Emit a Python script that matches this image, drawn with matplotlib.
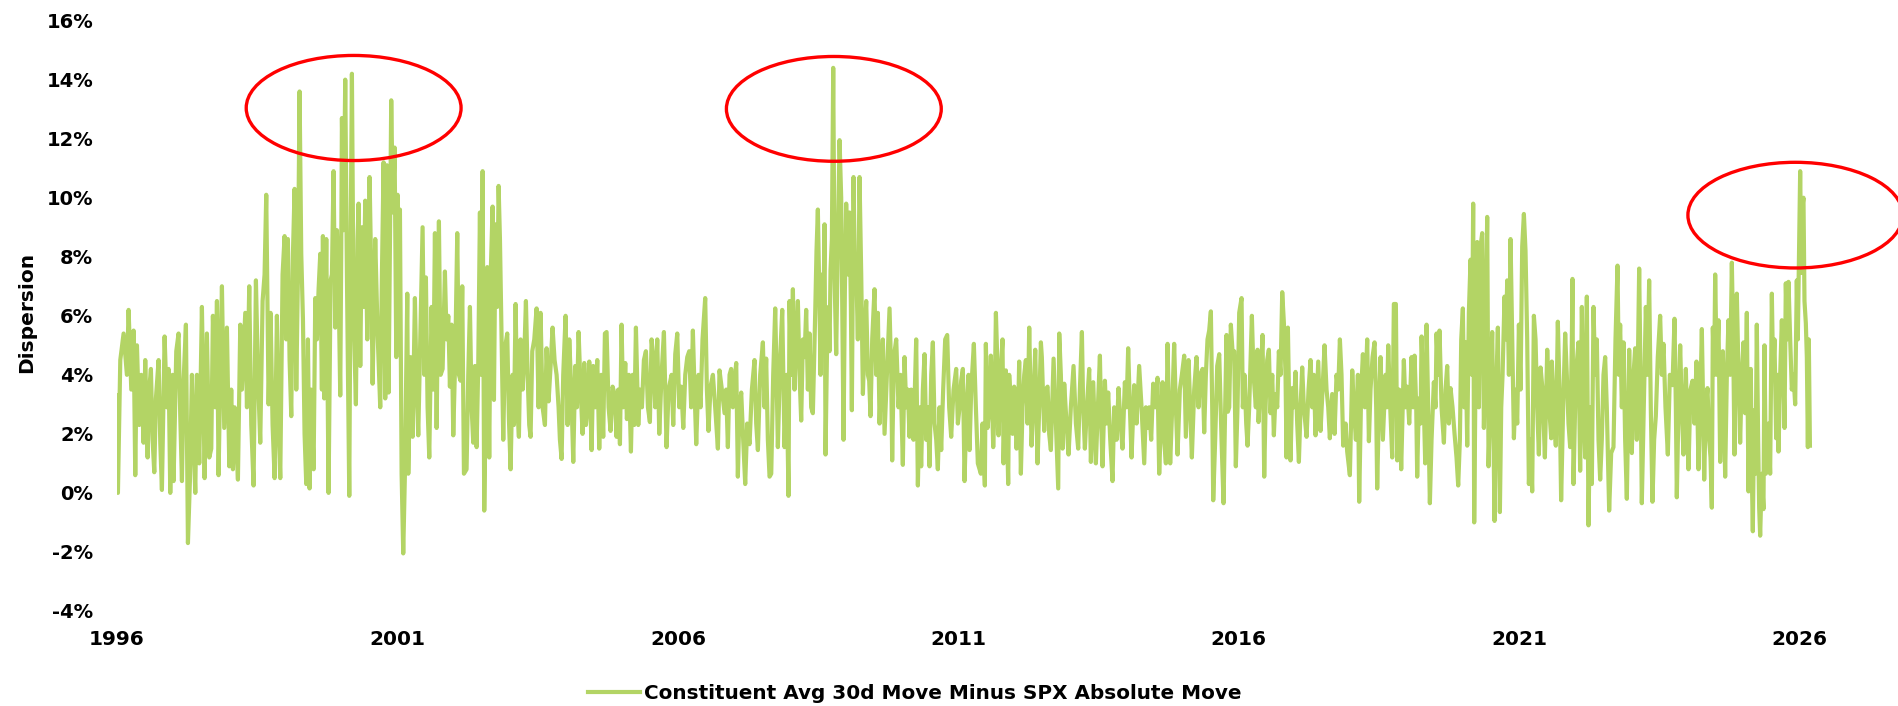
import numpy as np
import matplotlib
matplotlib.use("Agg")
import matplotlib.pyplot as plt
from matplotlib.patches import Ellipse

plt.rcParams['font.family'] = ['DejaVu Sans']
plt.rcParams['font.weight'] = 'bold'

# dispersion series (%) in blocks of ~5 years
yr_1996 = [1996.000, 1996.018, 1996.060, 1996.119, 1996.178, 1996.208, 1996.256, 1996.297, 1996.327, 1996.357,
           1996.398, 1996.434, 1996.475, 1996.505, 1996.547, 1996.576, 1996.606, 1996.636, 1996.666, 1996.695,
           1996.743, 1996.773, 1996.802, 1996.850, 1996.891, 1996.921, 1996.951, 1996.992, 1997.010, 1997.058,
           1997.099, 1997.129, 1997.159, 1997.189, 1997.230, 1997.254, 1997.266, 1997.301, 1997.337, 1997.367,
           1997.397, 1997.426, 1997.468, 1997.515, 1997.545, 1997.563, 1997.604, 1997.646, 1997.682, 1997.711,
           1997.753, 1997.783, 1997.812, 1997.848, 1997.872, 1997.913, 1997.961, 1998.003, 1998.038, 1998.068,
           1998.098, 1998.121, 1998.157, 1998.199, 1998.228, 1998.288, 1998.318, 1998.359, 1998.395, 1998.436,
           1998.478, 1998.514, 1998.555, 1998.597, 1998.632, 1998.662, 1998.704, 1998.739, 1998.775, 1998.811,
           1998.852, 1998.882, 1998.912, 1998.953, 1998.989, 1999.019, 1999.048, 1999.078, 1999.108, 1999.138,
           1999.167, 1999.197, 1999.227, 1999.256, 1999.286, 1999.316, 1999.345, 1999.375, 1999.405, 1999.434,
           1999.464, 1999.506, 1999.536, 1999.565, 1999.595, 1999.625, 1999.654, 1999.672, 1999.696, 1999.732,
           1999.773, 1999.809, 1999.833, 1999.862, 1999.892, 1999.922, 1999.952, 1999.981, 1999.999, 2000.011,
           2000.041, 2000.070, 2000.100, 2000.142, 2000.165, 2000.189, 2000.219, 2000.260, 2000.290, 2000.308,
           2000.338, 2000.367, 2000.397, 2000.427, 2000.463, 2000.504, 2000.534, 2000.558, 2000.605, 2000.647,
           2000.694, 2000.724, 2000.754, 2000.783, 2000.813, 2000.843, 2000.890, 2000.920, 2000.950, 2000.980,
           2001.003, 2001.033]
val_1996 = [3.3, 0.0, 4.5, 5.4, 4.0, 6.2, 3.5, 5.5, 0.6, 5.0,
            2.3, 4.0, 1.7, 4.5, 1.2, 3.5, 4.2, 1.8, 0.7, 3.2,
            4.5, 1.7, 0.1, 5.3, 2.9, 4.2, 0.0, 4.0, 0.4, 4.8,
            5.4, 2.6, 0.4, 3.8, 5.7, 0.6, -1.7, 0.4, 4.0, 1.8,
            0.0, 4.0, 1.0, 6.3, 2.9, 0.5, 5.4, 1.2, 1.5, 6.0,
            2.9, 6.5, 0.6, 4.6, 7.0, 2.2, 5.6, 0.9, 3.5, 0.8,
            2.9, 2.2, 0.45, 5.7, 3.5, 6.1, 2.9, 7.0, 2.3, 0.25,
            7.2, 4.0, 1.7, 6.5, 7.4, 10.1, 3.0, 6.1, 2.3, 0.5,
            6.0, 2.3, 0.5, 7.4, 8.7, 5.2, 8.6, 4.5, 2.6, 8.1,
            10.3, 3.5, 7.4, 13.6, 8.1, 5.9, 2.0, 0.3, 5.2, 0.15,
            3.5, 0.8, 6.6, 5.2, 6.9, 8.1, 3.5, 8.7, 3.2, 8.6,
            0.0, 7.2, 7.4, 10.9, 5.6, 8.9, 7.0, 3.3, 8.3, 12.7,
            8.9, 14.0, 7.4, -0.1, 8.0, 14.2, 6.1, 3.0, 8.6, 9.8,
            4.3, 9.0, 6.3, 9.9, 5.2, 10.7, 7.4, 3.7, 8.6, 5.4,
            2.9, 7.4, 11.2, 3.2, 11.1, 3.4, 13.3, 9.5, 11.7, 4.6,
            10.1, 5.7]

yr_2001 = [2001.045, 2001.075, 2001.104, 2001.134, 2001.176, 2001.194, 2001.235, 2001.271, 2001.312, 2001.342,
           2001.372, 2001.413, 2001.449, 2001.479, 2001.508, 2001.538, 2001.568, 2001.609, 2001.639, 2001.669,
           2001.699, 2001.740, 2001.770, 2001.806, 2001.847, 2001.877, 2001.907, 2001.936, 2001.966, 2001.996,
           2002.031, 2002.067, 2002.097, 2002.126, 2002.156, 2002.186, 2002.233, 2002.263, 2002.293, 2002.323,
           2002.352, 2002.382, 2002.412, 2002.441, 2002.471, 2002.495, 2002.519, 2002.548, 2002.578, 2002.602,
           2002.637, 2002.667, 2002.697, 2002.721, 2002.750, 2002.780, 2002.804, 2002.828, 2002.857, 2002.887,
           2002.917, 2002.958, 2002.988, 2003.018, 2003.053, 2003.077, 2003.107, 2003.137, 2003.166, 2003.196,
           2003.232, 2003.261, 2003.291, 2003.321, 2003.350, 2003.374, 2003.404, 2003.440, 2003.481, 2003.517,
           2003.552, 2003.588, 2003.630, 2003.659, 2003.695, 2003.731, 2003.766, 2003.802, 2003.838, 2003.873,
           2003.897, 2003.927, 2003.956, 2003.998, 2004.034, 2004.064, 2004.099, 2004.135, 2004.170, 2004.200,
           2004.230, 2004.266, 2004.301, 2004.331, 2004.361, 2004.390, 2004.420, 2004.462, 2004.491, 2004.527,
           2004.563, 2004.598, 2004.634, 2004.669, 2004.699, 2004.729, 2004.765, 2004.800, 2004.836, 2004.872,
           2004.907, 2004.937, 2004.967, 2004.996, 2005.026, 2005.062, 2005.091, 2005.127, 2005.163, 2005.193,
           2005.222, 2005.252, 2005.294, 2005.323, 2005.359, 2005.394, 2005.430, 2005.466, 2005.501, 2005.531,
           2005.561, 2005.596, 2005.632, 2005.668, 2005.709, 2005.751, 2005.781, 2005.798, 2005.834, 2005.887,
           2005.917, 2005.953, 2005.989, 2006.024, 2006.060, 2006.096, 2006.131, 2006.167, 2006.202]
val_2001 = [9.6, 0.65, -2.05, 0.65, 6.75, 0.65, 4.6, 1.9, 6.6, 3.6,
            1.95, 5.7, 9.0, 4.0, 7.3, 2.9, 1.2, 6.3, 3.5, 8.8,
            2.2, 9.2, 4.0, 4.2, 7.5, 5.2, 6.0, 3.6, 5.7, 1.95,
            4.6, 8.8, 4.0, 3.8, 7.0, 0.65, 0.8, 4.0, 6.3, 2.9,
            1.7, 4.3, 1.55, 4.3, 9.5, 4.0, 10.9, -0.6, 3.5, 7.65,
            1.2, 7.65, 9.7, 3.15, 9.1, 6.3, 10.4, 8.6, 5.2, 1.8,
            4.9, 5.4, 2.5, 0.8, 4.0, 2.3, 6.4, 2.9, 1.9, 5.2,
            3.5, 4.6, 6.5, 4.0, 2.3, 1.9, 4.8, 5.2, 6.25, 2.9,
            6.1, 2.9, 2.3, 4.9, 3.1, 4.3, 5.6, 4.5, 4.0, 2.9,
            1.8, 1.15, 4.0, 6.0, 2.3, 5.2, 3.5, 1.05, 4.3, 2.9,
            5.45, 3.5, 2.0, 4.4, 2.3, 2.9, 4.45, 1.45, 4.3, 2.9,
            4.5, 1.5, 4.0, 1.9, 5.4, 5.45, 2.9, 2.1, 3.6, 3.35,
            1.9, 3.5, 1.65, 5.7, 2.9, 4.4, 2.5, 4.0, 1.4, 4.0,
            2.3, 5.6, 2.3, 3.5, 2.9, 4.5, 4.8, 2.9, 2.4, 5.2,
            4.6, 2.9, 5.2, 2.0, 4.0, 5.45, 2.9, 1.55, 3.5, 4.0,
            2.3, 4.7, 5.4, 2.9, 3.6, 2.2, 4.0, 4.6, 4.8]

yr_2006 = [2006.237, 2006.267, 2006.297, 2006.327, 2006.368, 2006.404, 2006.439, 2006.487, 2006.517, 2006.546,
           2006.582, 2006.624, 2006.665, 2006.713, 2006.742, 2006.784, 2006.832, 2006.861, 2006.891, 2006.921,
           2006.950, 2006.980, 2007.010, 2007.040, 2007.069, 2007.099, 2007.129, 2007.164, 2007.200, 2007.236,
           2007.277, 2007.319, 2007.366, 2007.396, 2007.426, 2007.467, 2007.515, 2007.545, 2007.574, 2007.604,
           2007.634, 2007.664, 2007.699, 2007.735, 2007.759, 2007.782, 2007.824, 2007.860, 2007.883, 2007.901,
           2007.937, 2007.972, 2007.990, 2008.020, 2008.050, 2008.079, 2008.109, 2008.139, 2008.169, 2008.198,
           2008.228, 2008.258, 2008.287, 2008.317, 2008.347, 2008.376, 2008.406, 2008.448, 2008.471, 2008.495,
           2008.525, 2008.543, 2008.572, 2008.590, 2008.614, 2008.632, 2008.661, 2008.685, 2008.703, 2008.721,
           2008.745, 2008.769, 2008.792, 2008.822, 2008.852, 2008.882, 2008.911, 2008.935, 2008.953, 2008.977,
           2009.000, 2009.030, 2009.060, 2009.084, 2009.101, 2009.131, 2009.155, 2009.179, 2009.208, 2009.238,
           2009.268, 2009.298, 2009.327, 2009.357, 2009.387, 2009.410, 2009.434, 2009.464, 2009.505, 2009.535,
           2009.565, 2009.595, 2009.624, 2009.654, 2009.684, 2009.725, 2009.773, 2009.803, 2009.820, 2009.850,
           2009.892, 2009.933, 2009.969, 2010.010, 2010.040, 2010.070, 2010.100, 2010.129, 2010.159, 2010.200,
           2010.248, 2010.278, 2010.307, 2010.337, 2010.367, 2010.397, 2010.426, 2010.456, 2010.486, 2010.516,
           2010.545, 2010.575, 2010.605, 2010.634, 2010.664, 2010.694, 2010.729, 2010.765, 2010.801, 2010.836,
           2010.872, 2010.914, 2010.961, 2010.991, 2011.021, 2011.050, 2011.080, 2011.110, 2011.145, 2011.181,
           2011.199, 2011.229, 2011.276, 2011.312, 2011.347]
val_2006 = [2.9, 5.5, 3.5, 1.65, 4.0, 2.9, 5.2, 6.6, 3.5, 2.1,
            3.6, 4.0, 2.9, 1.5, 4.15, 3.5, 2.7, 3.5, 1.55, 4.0,
            4.2, 2.9, 3.8, 4.4, 0.55, 2.9, 3.4, 1.8, 0.3, 2.35,
            1.65, 3.5, 4.5, 2.35, 1.45, 4.0, 5.1, 2.9, 4.55, 1.8,
            0.55, 0.65, 4.0, 6.25, 4.0, 1.55, 4.6, 6.2, 3.5, 1.55,
            4.0, -0.1, 6.5, 4.0, 6.9, 3.5, 5.2, 6.5, 4.0, 2.45,
            5.2, 4.6, 6.2, 3.5, 5.4, 2.9, 2.7, 6.1, 8.2, 9.6,
            6.3, 4.0, 7.4, 5.2, 9.1, 1.3, 5.2, 6.3, 4.8, 7.55,
            8.6, 14.4, 7.4, 4.7, 8.6, 11.95, 10.0, 5.2, 1.8, 6.9,
            9.8, 7.4, 9.5, 6.3, 2.8, 10.7, 7.4, 7.65, 5.2, 10.7,
            7.4, 3.35, 5.2, 6.5, 4.0, 3.8, 2.6, 5.2, 6.9, 4.0,
            6.1, 2.35, 4.0, 5.2, 2.0, 4.0, 6.25, 4.0, 1.1, 4.6,
            5.2, 2.9, 4.0, 0.95, 4.6, 2.9, 3.5, 1.9, 3.5, 1.8,
            5.2, 0.25, 2.9, 0.9, 3.5, 4.7, 1.8, 2.9, 0.9, 4.0,
            5.1, 2.35, 1.8, 0.8, 2.9, 1.45, 3.5, 5.2, 5.35, 2.9,
            1.9, 3.5, 4.2, 2.35, 2.9, 3.8, 4.2, 0.4, 2.9, 4.0,
            1.45, 3.5, 5.05, 2.9, 1.0]

yr_2011 = [2011.401, 2011.431, 2011.472, 2011.490, 2011.520, 2011.550, 2011.579, 2011.621, 2011.645, 2011.669,
           2011.692, 2011.716, 2011.752, 2011.787, 2011.805, 2011.829, 2011.847, 2011.888, 2011.906, 2011.936,
           2011.966, 2011.995, 2012.037, 2012.061, 2012.084, 2012.114, 2012.144, 2012.174, 2012.203, 2012.233,
           2012.263, 2012.304, 2012.334, 2012.370, 2012.411, 2012.441, 2012.471, 2012.488, 2012.530, 2012.560,
           2012.590, 2012.619, 2012.649, 2012.697, 2012.738, 2012.780, 2012.798, 2012.827, 2012.857, 2012.887,
           2012.928, 2012.964, 2013.005, 2013.053, 2013.095, 2013.136, 2013.166, 2013.202, 2013.225, 2013.255,
           2013.291, 2013.332, 2013.362, 2013.404, 2013.427, 2013.451, 2013.487, 2013.523, 2013.546, 2013.570,
           2013.612, 2013.641, 2013.671, 2013.707, 2013.748, 2013.778, 2013.820, 2013.855, 2013.891, 2013.926,
           2013.968, 2013.998, 2014.027, 2014.057, 2014.087, 2014.134, 2014.176, 2014.223, 2014.265, 2014.313,
           2014.342, 2014.372, 2014.402, 2014.437, 2014.473, 2014.509, 2014.550, 2014.580, 2014.610, 2014.640,
           2014.669, 2014.699, 2014.729, 2014.758, 2014.776, 2014.812, 2014.847, 2014.877, 2014.907, 2014.948,
           2014.984, 2015.026, 2015.055, 2015.103, 2015.133, 2015.162, 2015.204, 2015.245, 2015.281, 2015.311,
           2015.352, 2015.382, 2015.412, 2015.441, 2015.471, 2015.501, 2015.525, 2015.543, 2015.578, 2015.614,
           2015.650, 2015.691, 2015.727, 2015.756, 2015.780, 2015.804, 2015.828, 2015.857, 2015.887, 2015.917,
           2015.946, 2015.976, 2016.006, 2016.048, 2016.071, 2016.101, 2016.131, 2016.155, 2016.184, 2016.232,
           2016.262, 2016.303, 2016.333, 2016.351, 2016.392, 2016.422, 2016.452]
val_2011 = [0.65, 2.35, 0.25, 5.05, 2.2, 2.9, 4.65, 1.55, 2.9, 6.1,
            4.6, 1.95, 4.0, 5.2, 1.0, 2.9, 4.15, 0.3, 4.0, 2.9,
            2.0, 3.6, 1.5, 2.35, 4.45, 0.65, 2.9, 4.0, 4.5, 2.35,
            5.6, 1.6, 2.9, 4.85, 1.0, 2.9, 5.1, 4.6, 2.1, 3.5,
            3.6, 2.0, 1.45, 4.55, 2.35, 0.15, 5.4, 4.0, 1.5, 3.7,
            2.35, 1.3, 2.9, 4.3, 2.35, 1.5, 3.5, 5.45, 2.9, 1.5,
            2.9, 4.2, 1.05, 3.75, 2.35, 1.0, 2.9, 4.65, 2.35, 0.9,
            3.8, 2.35, 3.4, 1.8, 0.4, 2.9, 1.8, 3.55, 2.35, 1.5,
            3.75, 2.9, 4.9, 2.9, 1.2, 3.65, 2.35, 4.3, 2.9, 1.0,
            2.9, 2.2, 2.9, 1.8, 3.7, 2.9, 3.9, 0.65, 2.35, 3.75,
            1.8, 1.0, 5.05, 2.35, 1.0, 2.9, 5.05, 2.9, 1.3, 3.5,
            4.0, 4.65, 1.9, 4.5, 2.9, 1.2, 3.5, 4.6, 2.9, 4.0,
            4.2, 2.05, 4.0, 5.2, 5.5, 6.15, 2.9, -0.25, 1.8, 4.3,
            4.7, 1.8, -0.35, 2.9, 5.35, 2.75, 2.9, 5.7, 4.8, 4.8,
            0.9, 2.9, 6.1, 6.6, 2.9, 4.0, 2.35, 1.6, 2.9, 6.0,
            4.0, 2.9, 4.85, 2.4, 4.0, 5.35, 0.55]

yr_2016 = [2016.476, 2016.505, 2016.535, 2016.565, 2016.595, 2016.624, 2016.654, 2016.684, 2016.713, 2016.743,
           2016.773, 2016.803, 2016.832, 2016.850, 2016.874, 2016.898, 2016.921, 2016.951, 2016.981, 2017.010,
           2017.040, 2017.070, 2017.100, 2017.129, 2017.159, 2017.207, 2017.242, 2017.278, 2017.308, 2017.337,
           2017.367, 2017.397, 2017.415, 2017.456, 2017.492, 2017.527, 2017.563, 2017.593, 2017.622, 2017.664,
           2017.706, 2017.741, 2017.771, 2017.801, 2017.830, 2017.860, 2017.902, 2017.931, 2017.979, 2018.021,
           2018.050, 2018.086, 2018.122, 2018.145, 2018.181, 2018.211, 2018.246, 2018.288, 2018.318, 2018.347,
           2018.383, 2018.419, 2018.448, 2018.466, 2018.496, 2018.526, 2018.567, 2018.615, 2018.639, 2018.663,
           2018.698, 2018.734, 2018.763, 2018.799, 2018.823, 2018.858, 2018.894, 2018.941, 2018.971, 2019.001,
           2019.037, 2019.078, 2019.108, 2019.132, 2019.162, 2019.179, 2019.209, 2019.239, 2019.257, 2019.298,
           2019.322, 2019.346, 2019.375, 2019.405, 2019.435, 2019.476, 2019.506, 2019.524, 2019.554, 2019.577,
           2019.613, 2019.655, 2019.684, 2019.714, 2019.744, 2019.773, 2019.809, 2019.845, 2019.880, 2019.910,
           2019.940, 2019.964, 2019.993, 2020.017, 2020.041, 2020.071, 2020.100, 2020.130, 2020.154, 2020.177,
           2020.195, 2020.225, 2020.249, 2020.279, 2020.308, 2020.338, 2020.368, 2020.397, 2020.427, 2020.451,
           2020.487, 2020.516, 2020.558, 2020.588, 2020.617, 2020.653, 2020.677, 2020.701, 2020.736, 2020.760,
           2020.784, 2020.814, 2020.843, 2020.873, 2020.903, 2020.932, 2020.962, 2020.992, 2021.021, 2021.051,
           2021.081, 2021.110, 2021.140, 2021.170, 2021.199, 2021.229, 2021.259, 2021.289, 2021.318, 2021.348,
           2021.378, 2021.413, 2021.455, 2021.497, 2021.532, 2021.568]
val_2016 = [2.9, 4.5, 4.85, 2.7, 4.0, 1.95, 3.35, 2.9, 4.8, 4.0,
            6.8, 5.75, 4.0, 1.2, 5.6, 2.9, 1.1, 3.55, 2.9, 4.1,
            2.35, 1.05, 2.9, 4.25, 2.9, 1.9, 3.5, 4.5, 2.9, 4.0,
            1.95, 3.5, 4.45, 2.1, 3.5, 5.0, 3.5, 2.9, 1.85, 3.35,
            2.0, 4.0, 3.5, 5.2, 4.0, 1.6, 2.35, 1.4, 0.6, 4.15,
            2.9, 1.8, 4.0, -0.3, 3.5, 4.7, 2.9, 5.2, 1.75, 3.5,
            4.6, 5.1, 2.9, 0.15, 2.9, 4.6, 1.8, 4.0, 2.9, 5.0,
            2.9, 1.2, 6.4, 6.4, 1.1, 3.5, 0.8, 4.5, 2.9, 3.6,
            2.35, 4.6, 2.9, 4.65, 2.9, 0.55, 3.2, 2.35, 5.3, 2.9,
            1.0, 5.7, 2.9, -0.35, 1.8, 3.75, 2.9, 5.4, 4.0, 5.5,
            2.9, 1.7, 3.5, 4.3, 2.35, 3.55, 2.9, 2.0, 1.2, 0.25,
            1.8, 5.2, 6.25, 2.9, 5.1, 1.6, 6.1, 7.9, 4.0, 9.8,
            -1.0, 5.2, 8.5, 2.9, 8.35, 8.8, 2.2, 5.2, 9.35, 0.9,
            3.5, 5.45, -0.95, 3.5, 5.6, -0.65, 2.9, 4.0, 6.65, 5.2,
            7.2, 4.0, 8.6, 5.2, 1.85, 3.5, 2.35, 5.7, 3.5, 8.35,
            9.45, 8.2, 5.2, 0.3, 1.8, 0.05, 6.0, 5.2, 2.9, 1.3,
            4.25, 3.5, 1.2, 4.85, 2.9, 1.85]

yr_2021 = [2021.579, 2021.615, 2021.650, 2021.686, 2021.716, 2021.745, 2021.781, 2021.817, 2021.846, 2021.876,
           2021.906, 2021.936, 2021.947, 2021.965, 2022.007, 2022.054, 2022.084, 2022.114, 2022.143, 2022.173,
           2022.203, 2022.233, 2022.262, 2022.292, 2022.322, 2022.351, 2022.381, 2022.411, 2022.441, 2022.470,
           2022.500, 2022.530, 2022.559, 2022.601, 2022.637, 2022.678, 2022.714, 2022.750, 2022.773, 2022.797,
           2022.827, 2022.857, 2022.886, 2022.916, 2022.958, 2022.981, 2023.005, 2023.035, 2023.065, 2023.094,
           2023.136, 2023.160, 2023.183, 2023.219, 2023.255, 2023.284, 2023.314, 2023.344, 2023.373, 2023.403,
           2023.433, 2023.468, 2023.510, 2023.540, 2023.570, 2023.605, 2023.647, 2023.683, 2023.730, 2023.766,
           2023.790, 2023.807, 2023.837, 2023.867, 2023.896, 2023.926, 2023.968, 2023.991, 2024.015, 2024.051,
           2024.087, 2024.122, 2024.158, 2024.194, 2024.223, 2024.253, 2024.277, 2024.295, 2024.324, 2024.354,
           2024.384, 2024.408, 2024.431, 2024.449, 2024.473, 2024.491, 2024.520, 2024.550, 2024.580, 2024.609,
           2024.627, 2024.651, 2024.669, 2024.699, 2024.728, 2024.758, 2024.788, 2024.812, 2024.835, 2024.859,
           2024.877, 2024.907, 2024.936, 2024.966, 2024.996, 2025.025, 2025.055, 2025.085, 2025.108, 2025.126,
           2025.144, 2025.162, 2025.186, 2025.209, 2025.233, 2025.257, 2025.275, 2025.293, 2025.322, 2025.352,
           2025.370, 2025.394, 2025.417, 2025.441, 2025.471, 2025.501, 2025.524, 2025.548, 2025.578, 2025.602,
           2025.620, 2025.650, 2025.679, 2025.709, 2025.727, 2025.750, 2025.774, 2025.798, 2025.828, 2025.857,
           2025.887, 2025.917, 2025.946, 2025.964, 2025.988, 2026.006, 2026.029, 2026.047, 2026.065, 2026.083,
           2026.107, 2026.125, 2026.143, 2026.160, 2026.172, 2026.180]
val_2021 = [4.45, 2.9, 1.6, 5.8, 3.5, -0.25, 2.9, 5.4, 4.0, 2.35,
            1.55, 5.2, 7.25, 0.3, 4.0, 5.1, 0.75, 6.3, 2.9, 1.2,
            6.65, -1.1, 2.9, 0.3, 6.3, 4.0, 5.2, 1.8, 0.45, 1.8,
            4.0, 4.6, 2.9, -0.6, 1.35, 1.55, 5.2, 7.7, 4.0, 5.7,
            2.9, 5.1, 1.8, -0.2, 4.85, 2.9, 1.35, 4.0, 4.9, 1.8,
            7.6, 4.0, -0.35, 2.9, 6.3, 4.0, 7.2, 2.8, -0.3, 1.8,
            2.6, 4.6, 6.0, 4.0, 5.05, 2.9, 1.3, 4.0, 3.65, 5.9,
            2.9, -0.15, 2.9, 5.0, 2.9, 1.3, 4.2, 2.35, 0.8, 3.5,
            3.8, 2.35, 4.45, 0.8, 2.9, 5.55, 2.9, 0.45, 2.9, 3.55,
            1.8, 1.2, -0.5, 5.6, 4.0, 7.4, 4.0, 5.85, 1.05, 3.5,
            4.8, 2.35, 0.55, 4.0, 5.85, 4.0, 7.8, 5.2, 1.3, 5.2,
            6.75, 4.0, 1.7, 4.0, 5.1, 2.7, 6.1, 0.05, 2.9, 4.2,
            0.65, -1.3, 2.8, 0.65, 5.7, 1.8, -0.5, -1.45, 0.65, -0.55,
            5.0, 0.65, 1.8, 2.35, 0.65, 6.75, 4.0, 5.2, 1.85, 4.0,
            1.4, 4.0, 5.85, 4.0, 2.2, 7.1, 5.2, 7.15, 5.2, 3.5,
            4.0, 3.0, 7.2, 5.2, 8.55, 10.9, 7.45, 9.7, 10.0, 6.5,
            5.75, 4.6, 1.55, 5.2, 3.15, 1.6]

# highlighted episodes (centre year, centre %, width in years, height in %)
circle_x = [2000.22, 2008.78, 2025.92]
circle_y = [13.04, 13.01, 9.41]
circle_w = [3.83, 3.83, 3.83]
circle_h = [3.56, 3.55, 3.58]

x_ticks = [1996, 2001, 2006, 2011, 2016, 2021, 2026]
y_ticks = [-4, -2, 0, 2, 4, 6, 8, 10, 12, 14, 16]
series_label = "Constituent Avg 30d Move Minus SPX Absolute Move"

years = np.concatenate([yr_1996, yr_2001, yr_2006, yr_2011, yr_2016, yr_2021])
vals = np.concatenate([val_1996, val_2001, val_2006, val_2011, val_2016, val_2021])

fig = plt.figure(figsize=(18.98, 7.06), dpi=100)
ax = fig.add_axes([0.0616, 0.1346, 0.9384, 0.8362])

line, = ax.plot(years, vals, color='#b3d465', lw=3.0, solid_joinstyle='round',
                label=series_label)

for cx, cy, w, h in zip(circle_x, circle_y, circle_w, circle_h):
    ax.add_patch(Ellipse((cx, cy), w, h, fill=False, edgecolor='#ff0000',
                         lw=2.4, clip_on=False, zorder=3))

ax.set_xlim(1996, 2027.75)
ax.set_ylim(-4, 16)
ax.set_xticks(x_ticks)
ax.set_xticklabels([str(t) for t in x_ticks], fontsize=14.5, fontweight='bold')
ax.set_yticks(y_ticks)
ax.set_yticklabels([f"{t}%" for t in y_ticks], fontsize=14, fontweight='bold')
ax.tick_params(axis='y', length=0, pad=17)
ax.tick_params(axis='x', length=0, pad=14)
for s in ax.spines.values():
    s.set_visible(False)

fig.text(27 / 1898, 0.558, "Dispersion", rotation=90, ha='center', va='center',
         fontsize=14.5, fontweight='bold')

fig.legend(handles=[line], loc='center', bbox_to_anchor=(915 / 1898, 0.018),
           frameon=False, handlelength=2.6, handletextpad=0.2,
           prop={'weight': 'bold', 'size': 14.4})

fig.savefig("out.png", dpi=100)
